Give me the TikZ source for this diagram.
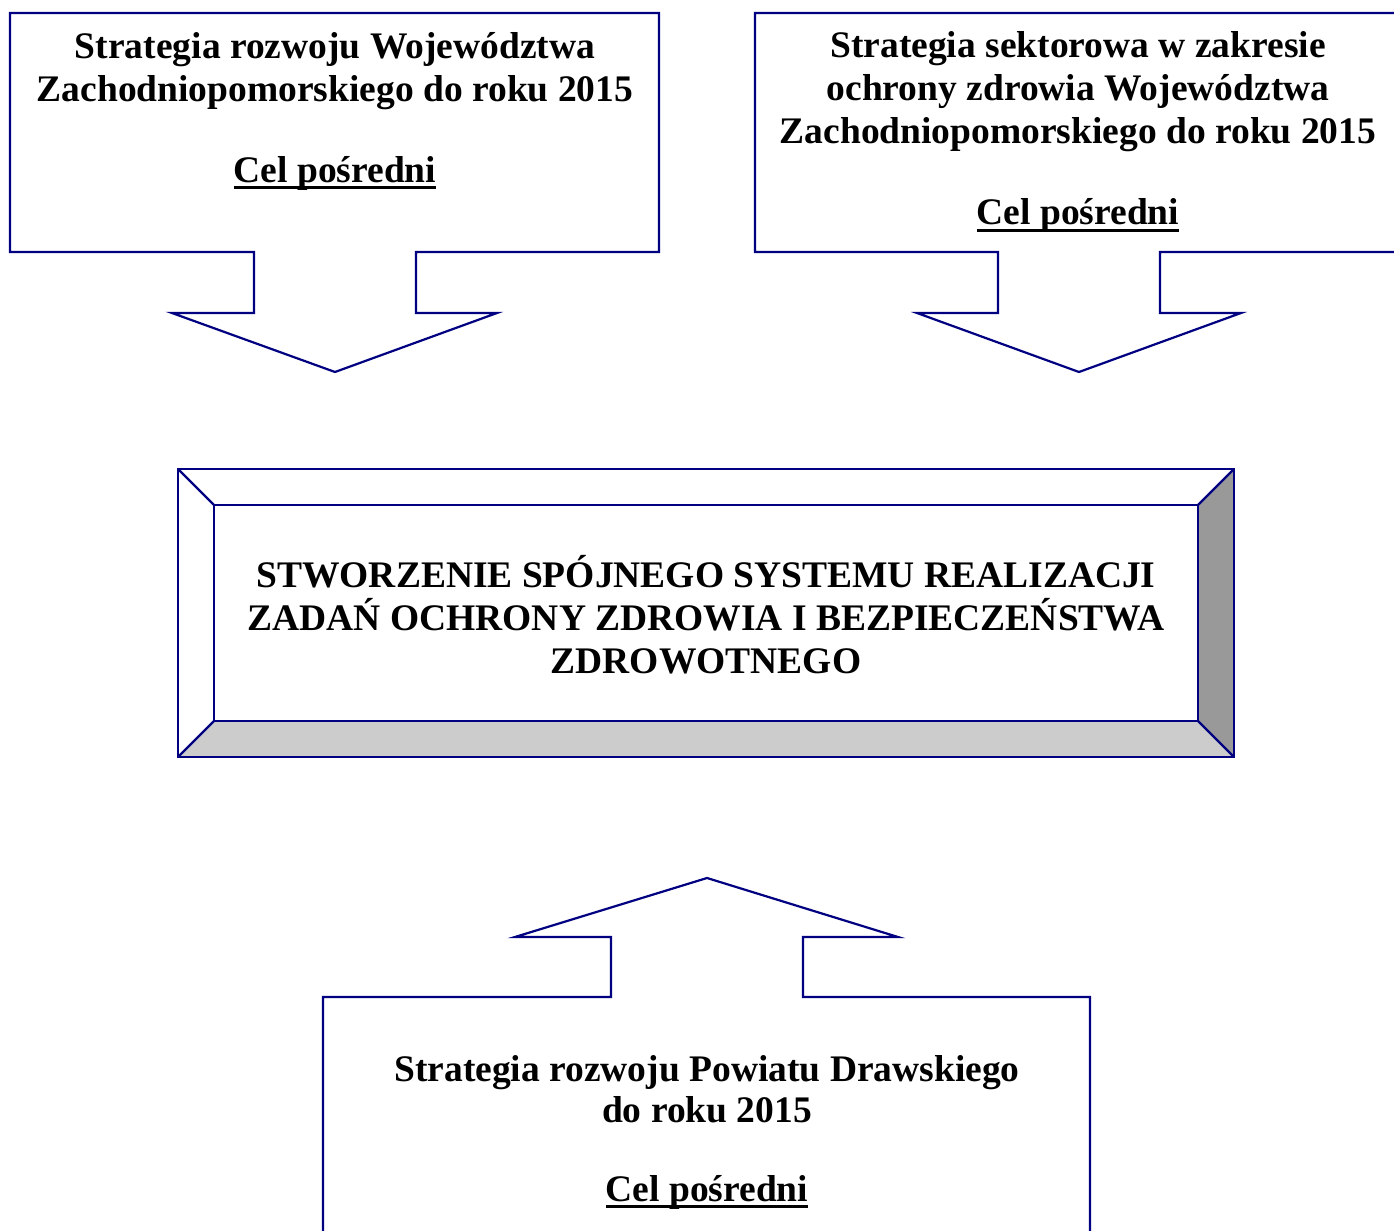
\documentclass[tikz,border=0pt]{standalone}
\usepackage{fontspec}
\setmainfont{Liberation Serif}
\usetikzlibrary{positioning}

\newsavebox{\podbox}
\newcommand{\podkresl}[1]{\sbox{\podbox}{#1}\rlap{\rule[-3.6pt]{\wd\podbox}{1.5pt}}\usebox{\podbox}}
\newcommand{\celpos}{\podkresl{Cel pośredni}}

\begin{document}
\begin{tikzpicture}[
  x=0.5pt, y=-0.5pt,
  frame/.style={draw=blue!50!black, line width=1.1pt, line join=miter},
  txt/.style={align=center, inner sep=0pt, font=\fontsize{18.75}{21.5}\selectfont\bfseries}
]
\clip (0,0) rectangle (1394,1231);

% Callouts
\draw[frame] (10,13) -- (659,13) -- (659,252) -- (416,252) -- (416,313) -- (497,313)
  -- (335,372) -- (172,313) -- (254,313) -- (254,252) -- (10,252) -- cycle;
\draw[frame] (755,13) -- (1410,13) -- (1410,252) -- (1160,252) -- (1160,313) -- (1241,313)
  -- (1079,372) -- (917,313) -- (998,313) -- (998,252) -- (755,252) -- cycle;
\draw[frame] (323,1245) -- (323,997) -- (611,997) -- (611,937) -- (515,937) -- (707,878)
  -- (898,937) -- (803,937) -- (803,997) -- (1090,997) -- (1090,1245);

% Bevel box
\coordinate (o1) at (178,469); \coordinate (o2) at (1234,469);
\coordinate (o3) at (1234,757); \coordinate (o4) at (178,757);
\coordinate (i1) at (214,505); \coordinate (i2) at (1198,505);
\coordinate (i3) at (1198,721); \coordinate (i4) at (214,721);
\fill[black!40] (o2) -- (o3) -- (i3) -- (i2) -- cycle;
\fill[black!20] (o4) -- (o3) -- (i3) -- (i4) -- cycle;
\draw[frame] (o1) rectangle (o3);
\draw[frame] (i1) rectangle (i3);
\draw[frame] (o1) -- (i1) (o2) -- (i2) (o3) -- (i3) (o4) -- (i4);

% Nodes
\node[txt] (woj) at (335,111) {Strategia rozwoju Województwa\\Zachodniopomorskiego do roku 2015\\[19pt]\celpos};
\node[txt] (sekt) at (1078,132) {Strategia sektorowa w zakresie\\ochrony zdrowia Województwa\\Zachodniopomorskiego do roku 2015\\[19pt]\celpos};
\node[txt] (cel) at (706,615) {STWORZENIE SPÓJNEGO SYSTEMU REALIZACJI\\ZADAŃ OCHRONY ZDROWIA I BEZPIECZEŃSTWA\\ZDROWOTNEGO};
\node[txt, font=\fontsize{18.75}{20.5}\selectfont\bfseries] (pow) at (707,1132) {Strategia rozwoju Powiatu Drawskiego\\do roku 2015\\[19pt]\celpos};

\end{tikzpicture}
\end{document}
